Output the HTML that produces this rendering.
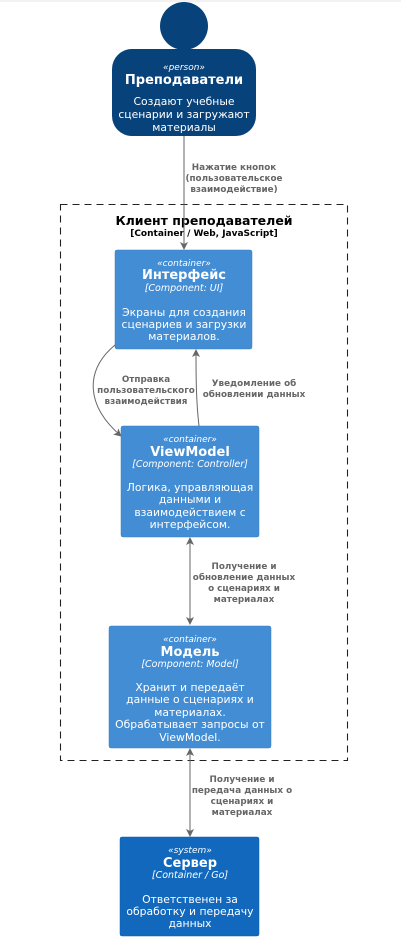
<!DOCTYPE html>
<html><head><meta charset="utf-8"><style>
html,body{margin:0;padding:0;background:#fff;}
svg{display:block;}
text{font-family:"DejaVu Sans","Liberation Sans",sans-serif;}
.w{fill:#fff;text-anchor:middle;}
.st{font-size:9px;font-style:italic;}
.nm{font-size:13px;font-weight:bold;}
.tp{font-size:9.5px;font-style:italic;}
.ds{font-size:10.8px;}
.lb{fill:#666;font-size:8.8px;font-weight:bold;text-anchor:middle;}
</style></head><body>
<svg width="401" height="940" viewBox="0 0 401 940" xmlns="http://www.w3.org/2000/svg">
<defs><marker id="a" markerWidth="8" markerHeight="8" refX="7" refY="4" orient="auto-start-reverse" markerUnits="userSpaceOnUse"><path d="M0,0 L8,4 L0,8 L2,4 Z" fill="#666"/></marker></defs>
<line x1="0" y1="1" x2="401" y2="1" stroke="#e6e6e6" stroke-width="1"/>
<circle cx="184" cy="26" r="24" fill="#08427b"/>
<rect x="112" y="49" width="144" height="87" rx="20" fill="#08427b"/>
<text class="w st" x="184" y="70">«person»</text>
<text class="w nm" x="184" y="84">Преподаватели</text>
<text class="w ds" x="184" y="105">Создают учебные</text>
<text class="w ds" x="184" y="118">сценарии и загружают</text>
<text class="w ds" x="184" y="131">материалы</text>
<rect x="60.5" y="204.5" width="287" height="556" fill="none" stroke="#222" stroke-width="1.1" stroke-dasharray="7,5"/>
<text x="204" y="225" font-size="12.5" font-weight="bold" text-anchor="middle" fill="#000">Клиент преподавателей</text>
<text x="204" y="236" font-size="9" font-weight="bold" text-anchor="middle" fill="#000">[Container / Web, JavaScript]</text>
<line x1="184" y1="136" x2="184" y2="249" stroke="#666" marker-end="url(#a)"/>
<text class="lb" x="234" y="170">Нажатие кнопок</text>
<text class="lb" x="234" y="181">(пользовательское</text>
<text class="lb" x="234" y="192">взаимодействие)</text>
<rect x="115" y="250" width="137" height="99" rx="2" fill="#438dd5" stroke="#3c7fc0" stroke-width="0.5"/>
<text class="w st" x="184" y="266">«container»</text>
<text class="w nm" x="184" y="279">Интерфейс</text>
<text class="w tp" x="184" y="291">[Component: UI]</text>
<text class="w ds" x="184" y="316">Экраны для создания</text>
<text class="w ds" x="184" y="328">сценариев и загрузки</text>
<text class="w ds" x="184" y="340">материалов.</text>
<path d="M115,345 C85,370 85,405 121,436" fill="none" stroke="#666" marker-end="url(#a)"/>
<text class="lb" x="146" y="382">Отправка</text>
<text class="lb" x="146" y="393">пользовательского</text>
<text class="lb" x="146" y="404">взаимодействия</text>
<path d="M199,426 C196,400 196,375 196,350" fill="none" stroke="#666" marker-end="url(#a)"/>
<text class="lb" x="254" y="386">Уведомление об</text>
<text class="lb" x="254" y="397">обновлении данных</text>
<rect x="121" y="426" width="138" height="111" rx="2" fill="#438dd5" stroke="#3c7fc0" stroke-width="0.5"/>
<text class="w st" x="190" y="442">«container»</text>
<text class="w nm" x="190" y="456">ViewModel</text>
<text class="w tp" x="190" y="467">[Component: Controller]</text>
<text class="w ds" x="190" y="491">Логика, управляющая</text>
<text class="w ds" x="190" y="503">данными и</text>
<text class="w ds" x="190" y="516">взаимодействием с</text>
<text class="w ds" x="190" y="528">интерфейсом.</text>
<line x1="190" y1="538" x2="190" y2="624" stroke="#666" marker-start="url(#a)" marker-end="url(#a)"/>
<text class="lb" x="244" y="569">Получение и</text>
<text class="lb" x="244" y="580">обновление данных</text>
<text class="lb" x="244" y="591">о сценариях и</text>
<text class="lb" x="244" y="602">материалах</text>
<rect x="109" y="626" width="162" height="122" rx="2" fill="#438dd5" stroke="#3c7fc0" stroke-width="0.5"/>
<text class="w st" x="190" y="642">«container»</text>
<text class="w nm" x="190" y="656">Модель</text>
<text class="w tp" x="190" y="667">[Component: Model]</text>
<text class="w ds" x="190" y="691">Хранит и передаёт</text>
<text class="w ds" x="190" y="703">данные о сценариях и</text>
<text class="w ds" x="190" y="716">материалах.</text>
<text class="w ds" x="190" y="728">Обрабатывает запросы от</text>
<text class="w ds" x="190" y="741">ViewModel.</text>
<line x1="190" y1="749" x2="190" y2="836" stroke="#666" marker-start="url(#a)" marker-end="url(#a)"/>
<text class="lb" x="242" y="782">Получение и</text>
<text class="lb" x="242" y="793">передача данных о</text>
<text class="lb" x="242" y="804">сценариях и</text>
<text class="lb" x="242" y="815">материалах</text>
<rect x="120" y="837" width="139" height="99" rx="2" fill="#1168bd" stroke="#0f5eaa" stroke-width="0.5"/>
<text class="w st" x="190" y="853">«system»</text>
<text class="w nm" x="190" y="867">Сервер</text>
<text class="w tp" x="190" y="878">[Container / Go]</text>
<text class="w ds" x="190" y="903">Ответственен за</text>
<text class="w ds" x="190" y="915">обработку и передачу</text>
<text class="w ds" x="190" y="927">данных</text>
</svg>
</body></html>
